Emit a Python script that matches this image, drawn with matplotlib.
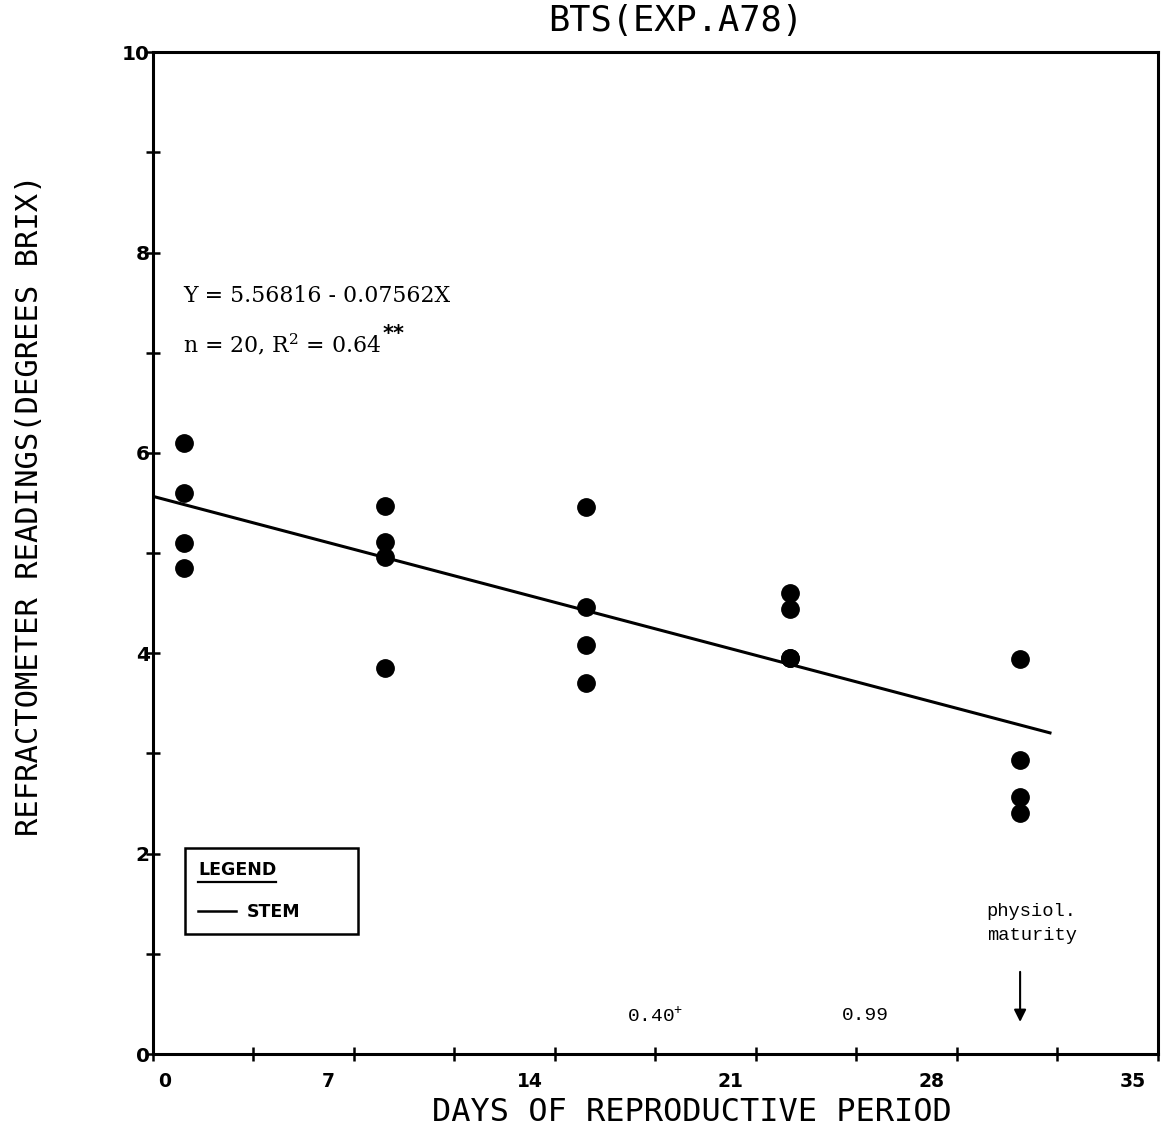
import numpy as np
import matplotlib
matplotlib.use("Agg")
import matplotlib.pyplot as plt
from matplotlib.transforms import ScaledTranslation
from matplotlib.lines import Line2D

# ---- data ----
days = [1.1, 8.1, 15.1, 22.2, 30.2]
brix_day1 = [6.10, 5.60, 5.10, 4.85]
brix_day8 = [5.47, 5.11, 4.96, 3.85]
brix_day15 = [5.46, 4.46, 4.08, 3.70]
brix_day22 = [4.60, 4.44, 3.95, 3.95]
brix_day30 = [3.94, 2.94, 2.57, 2.41]
intercept = 5.56816
slope = -0.07562
fit_range = [0.0, 31.24]
x_ticks = [0, 3.5, 7, 10.5, 14, 17.5, 21, 24.5, 28, 31.5, 35]
x_labels = ["0", "", "7", "", "14", "", "21", "", "28", "", "35"]
y_ticks = [0, 1, 2, 3, 4, 5, 6, 7, 8, 9, 10]
y_labels = ["0", "", "2", "", "4", "", "6", "", "8", "", "10"]
note_values = ["0.40", "0.99"]
note_marks = ["+", ""]
note_days = [17.5, 24.8]
maturity_day = 30.2

groups = [brix_day1, brix_day8, brix_day15, brix_day22, brix_day30]
xs = np.concatenate([[d] * len(g) for d, g in zip(days, groups)])
ys = np.concatenate(groups)

W, H = 1166, 1132
fig = plt.figure(figsize=(W / 100, H / 100), dpi=100)
ax = fig.add_axes([152.5 / W, 1 - 1054 / H, (1158 - 152.5) / W, (1054 - 52.3) / H])

ax.plot(xs, ys, "o", color="black", ms=12.5, zorder=3)
fx = np.array(fit_range)
ax.plot(fx, intercept + slope * fx, color="black", lw=2.2, label="STEM")

ax.set_xlim(0, 35)
ax.set_ylim(0, 10)
for s in ax.spines.values():
    s.set_linewidth(2.2)

ax.set_xticks(x_ticks)
ax.set_xticklabels(x_labels, fontsize=13.5, fontweight="bold", family="DejaVu Sans")
ax.set_yticks(y_ticks)
ax.set_yticklabels(y_labels, fontsize=14.5, fontweight="bold", family="DejaVu Sans")
ax.tick_params(direction="inout", length=10, width=1.8)
ax.tick_params(axis="y", pad=-3)
ax.tick_params(axis="x", pad=8)

# x tick labels sit left of their ticks in the reference (except 0)
for lab, txt in zip(ax.get_xticklabels(), x_labels):
    dx = 12 if txt == "0" else -25
    lab.set_transform(lab.get_transform() + ScaledTranslation(dx / 100, 0, fig.dpi_scale_trans))

mono = "DejaVu Sans Mono"
ax.set_xlabel("DAYS OF REPRODUCTIVE PERIOD", fontsize=23, family=mono)
ax.xaxis.set_label_coords((692 - 152.5) / 1005.5, (1054 - 1097) / 1001.7)
ax.set_ylabel("REFRACTOMETER READINGS(DEGREES BRIX)", fontsize=22, family=mono)
ax.yaxis.label.set_va("center")
ax.yaxis.set_label_coords((30 - 152.5) / 1005.5, (1054 - 505) / 1001.7)
ax.set_title("BTS(EXP.A78)", fontsize=25.5, family=mono,
             x=(676 - 152.5) / 1005.5, y=(1054 - 29) / 1001.7, va="center")

serif = "DejaVu Serif"
ax.text(1.06, 7.57, "Y = 5.56816 - 0.07562X", fontsize=15.8, family=serif, va="center")
t2 = ax.text(1.06, 7.08, r"n = 20, R$\mathregular{^2}$ = 0.64",
             fontsize=15.8, family=serif, va="center")
ax.annotate("**", xy=(1.0, 0.55), xycoords=t2, xytext=(1, 0), textcoords="offset points",
            ha="left", va="bottom", fontsize=15, fontweight="bold", family="DejaVu Sans")

small = "Liberation Mono"
for v, m, d in zip(note_values, note_marks, note_days):
    label = v + (r"$\mathregular{^{" + m + "}}$" if m else "")
    ax.text(d, 0.38, label, fontsize=14, family=small, ha="center", va="center")

ax.text(maturity_day + 0.4, 1.3, "physiol.\nmaturity", fontsize=13.5, family=small,
        ha="center", va="center", linespacing=1.55)
ax.annotate("", xy=(maturity_day, 0.32), xytext=(maturity_day, 0.82),
            arrowprops=dict(arrowstyle="-|>", color="black", lw=1.5,
                            mutation_scale=18, shrinkA=0, shrinkB=0))

x0 = (185 - 152.5) / 1005.5
y0 = (1054 - 934) / 1001.7
w = (358 - 185) / 1005.5
h = (934 - 846) / 1001.7
leg = ax.legend(loc="lower left", bbox_to_anchor=(x0, y0, w, h), mode="expand",
                borderaxespad=0, title="LEGEND", alignment="left", fancybox=False,
                framealpha=1, edgecolor="black", handlelength=2.2, handletextpad=0.6,
                borderpad=0.75, labelspacing=1.4,
                prop=dict(family="DejaVu Sans", weight="bold", size=12.5),
                title_fontproperties=dict(family="DejaVu Sans", weight="bold", size=12.5))
leg.get_frame().set_linewidth(1.8)
for hd in leg.legend_handles:
    hd.set_linewidth(1.8)

fig.canvas.draw()
bb = leg.get_title().get_window_extent().transformed(fig.transFigure.inverted())
fig.add_artist(Line2D([bb.x0, bb.x1], [bb.y0 - 0.003, bb.y0 - 0.003],
                      transform=fig.transFigure, color="black", lw=1.6))

fig.savefig("out.png", dpi=100, facecolor="white")
